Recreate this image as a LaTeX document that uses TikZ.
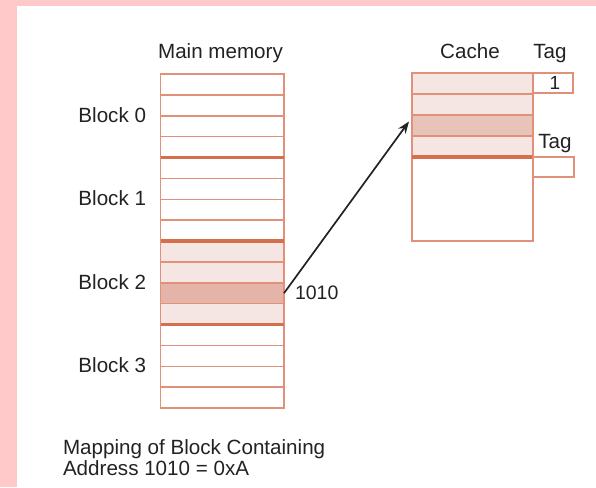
\documentclass[tikz,border=0pt]{standalone}
\usepackage{fontspec}
\setmainfont{Liberation Sans}
\usetikzlibrary{arrows.meta}
\definecolor{pagepink}{HTML}{FFC9C9}
\definecolor{rowline}{HTML}{E1917A}
\definecolor{blockline}{HTML}{D5704C}
\definecolor{rowfill}{HTML}{F5E6E3}
\definecolor{hitfill}{HTML}{E3B4A7}
\definecolor{cachehit}{HTML}{E8C3B9}
\definecolor{ink}{HTML}{222222}
\begin{document}
\begin{tikzpicture}[x=1pt,y=-1pt,
  lbl/.style={inner sep=0pt, outer sep=0pt, text=ink, font=\fontsize{20.6}{21}\selectfont},
  memrow/.style={draw=rowline, line width=1.5pt, minimum width=123.5pt,
    minimum height=20.875pt, inner sep=0pt, outer sep=0pt, anchor=north west},
  cacherow/.style={memrow, minimum width=121pt, minimum height=21pt},
  tagbox/.style={draw=rowline, line width=1.5pt, minimum width=40pt,
    minimum height=20pt, inner sep=0pt, outer sep=0pt, anchor=north west,
    text=ink, font=\fontsize{19}{20}\selectfont},
  blocksep/.style={draw=blockline, line width=3.6pt},
  link/.style={draw=ink, line width=1.7pt, -{Stealth[length=12pt,width=9pt]}}]
  % page background with a pink margin on the left and top
  \fill[white] (0,0) rectangle (596,487);
  \fill[pagepink] (0,0) rectangle (17,487);
  \fill[pagepink] (0,0) rectangle (596,6);
  \useasboundingbox (0,0) rectangle (596,487);

  % main memory: 16 lines, 4 blocks of 4 lines
  \foreach \i/\f in {0/white,1/white,2/white,3/white,4/white,5/white,6/white,7/white,
                     8/rowfill,9/rowfill,10/hitfill,11/rowfill,
                     12/white,13/white,14/white,15/white}
    \node[memrow, fill=\f] (m\i) at (160.5, 74+\i*20.875) {};
  \foreach \i in {3,7,11}
    \draw[blocksep] (m\i.south west) -- (m\i.south east);

  % cache: one block of 4 lines plus an empty block
  \foreach \i/\f in {0/rowfill,1/rowfill,2/cachehit,3/rowfill}
    \node[cacherow, fill=\f] (c\i) at (412, 73+\i*21) {};
  \node[cacherow, minimum height=84pt] (cfree) at (412,157) {};
  \draw[blocksep] (c3.south west) -- (c3.south east);

  % tag fields
  \node[tagbox] (t0) at (c0.north east) {\hspace*{4pt}1};
  \node[tagbox, minimum width=41pt] (t1) at (cfree.north east) {};

  % headings
  \node[lbl, anchor=base] (mmtitle) at (220.5,58.5) {Main memory};
  \node[lbl, anchor=base] (ctitle) at (470,58.5) {Cache};
  \node[lbl, anchor=base] (tagtitle) at (550,58.5) {Tag};
  \node[lbl, anchor=base] (tagtitle2) at (555,148.5) {Tag};

  % block labels
  \node[lbl, anchor=base east] (b0) at (146,122) {Block 0};
  \node[lbl, anchor=base east] (b1) at (146,205.5) {Block 1};
  \node[lbl, anchor=base east] (b2) at (146,289) {Block 2};
  \node[lbl, anchor=base east] (b3) at (146,372.5) {Block 3};

  % mapping of the addressed line into the cache
  \draw[link] (m10.east) -- ([xshift=-3pt,yshift=4pt]c2.west);
  \node[lbl, anchor=base west, font=\fontsize{19.5}{20}\selectfont] (addr) at (295,299) {1010};

  % caption
  \node[lbl, anchor=base west] (cap1) at (63,454) {Mapping of Block Containing};
  \node[lbl, anchor=base west] (cap2) at (63,475) {Address 1010 = 0xA};
\end{tikzpicture}
\end{document}
